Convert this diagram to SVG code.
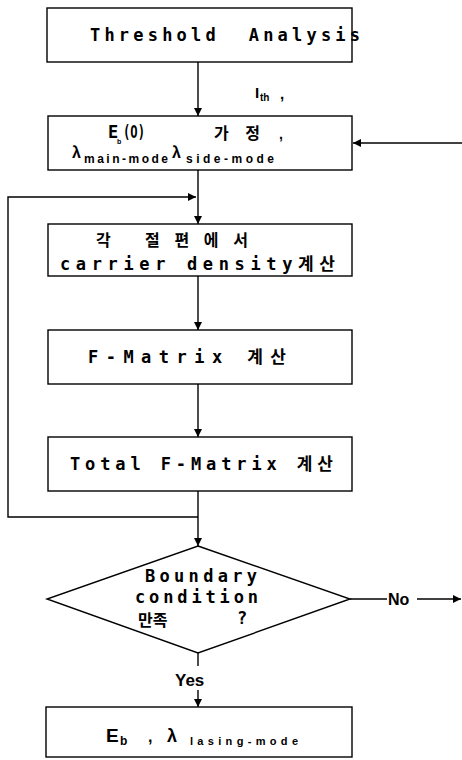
<svg xmlns="http://www.w3.org/2000/svg" width="462" height="760" viewBox="0 0 462 760">
<style>
.box{fill:#fff;stroke:#000;stroke-width:1.4}
.ln{fill:none;stroke:#000;stroke-width:1.4}
.m{font-family:"DejaVu Sans Mono","Noto Sans CJK KR",monospace;font-weight:bold;font-size:17px;fill:#000;white-space:pre}
.k{font-family:"Noto Sans CJK KR","Liberation Sans",sans-serif;font-weight:bold;font-size:16px;fill:#000}
.s{font-family:"Liberation Sans","Noto Sans CJK KR",sans-serif;font-weight:bold;fill:#000}
</style>
<defs>
<marker id="ah" viewBox="0 0 10 10" refX="10" refY="5" markerWidth="8" markerHeight="8" markerUnits="userSpaceOnUse" orient="auto">
<path d="M0,0 L10,5 L0,10 z" fill="#000"/>
</marker>
</defs>
<g id="connectors">
<line class="ln" x1="198" y1="62" x2="198" y2="116" marker-end="url(#ah)"/>
<text class="s" x="255" y="98" font-size="15">I</text>
<text class="s" x="260" y="101" font-size="10">th</text>
<text class="s" x="280" y="99" font-size="15">,</text>
<line class="ln" x1="462" y1="143" x2="353" y2="143" marker-end="url(#ah)"/>
<line class="ln" x1="198" y1="170" x2="198" y2="224" marker-end="url(#ah)"/>
<polyline class="ln" points="198,517 8,517 8,197 196,197" marker-end="url(#ah)"/>
<line class="ln" x1="198" y1="276" x2="198" y2="330" marker-end="url(#ah)"/>
<line class="ln" x1="198" y1="384" x2="198" y2="437" marker-end="url(#ah)"/>
<line class="ln" x1="198" y1="491" x2="198" y2="546" marker-end="url(#ah)"/>
<line class="ln" x1="350" y1="599" x2="387" y2="599"/>
<text class="s" x="388" y="605" font-size="16">No</text>
<line class="ln" x1="417" y1="599" x2="461" y2="599" marker-end="url(#ah)"/>
<line class="ln" x1="198" y1="653" x2="198" y2="666"/>
<text class="s" x="175" y="686" font-size="17">Yes</text>
<line class="ln" x1="198" y1="690" x2="198" y2="707" marker-end="url(#ah)"/>
</g>
<g id="n1">
<rect class="box" x="47" y="8" width="305" height="54"/>
<text class="m" x="90" y="41" textLength="270" lengthAdjust="spacing">Threshold  Analysis</text>
</g>
<g id="n2">
<rect class="box" x="48" y="116" width="304" height="54"/>
<text class="m" x="108" y="138" font-size="15">E</text>
<text class="s" x="117" y="144" font-size="7">b</text>
<text class="m" x="123" y="138" font-size="14" textLength="22" lengthAdjust="spacingAndGlyphs">(O)</text>
<text class="k" x="214" y="139" font-size="17" textLength="46" lengthAdjust="spacing">가정</text>
<text class="s" x="279" y="139" font-size="14">,</text>
<text class="s" x="72" y="158" font-size="16">λ</text>
<text class="s" x="84" y="163" font-size="12" textLength="84" lengthAdjust="spacing">main-mode</text>
<text class="s" x="172" y="158" font-size="16">λ</text>
<text class="s" x="186" y="163" font-size="12" textLength="88" lengthAdjust="spacing">side-mode</text>
</g>
<g id="n3">
<rect class="box" x="48" y="224" width="304" height="52"/>
<text class="k" x="96" y="246" font-size="18">각</text>
<text class="k" x="145" y="246" font-size="18" textLength="103" lengthAdjust="spacing">절편에서</text>
<text class="m" x="60" y="270" textLength="275" lengthAdjust="spacing">carrier density계산</text>
</g>
<g id="n4">
<rect class="box" x="48" y="330" width="304" height="54"/>
<text class="m" x="88" y="363" textLength="198" lengthAdjust="spacing">F-Matrix 계산</text>
</g>
<g id="n5">
<rect class="box" x="48" y="437" width="304" height="54"/>
<text class="m" x="70" y="470" textLength="263" lengthAdjust="spacing">Total F-Matrix 계산</text>
</g>
<g id="n6">
<polygon class="box" points="198,546 350,599 198,653 47,599"/>
<text class="m" x="145" y="582" font-size="16" textLength="112" lengthAdjust="spacing">Boundary</text>
<text class="m" x="135" y="603" font-size="16" textLength="123" lengthAdjust="spacing">condition</text>
<text class="k" x="138" y="626" font-size="16">만족</text>
<text class="m" x="237" y="624">?</text>
</g>
<g id="n7">
<rect class="box" x="46" y="707" width="306" height="50"/>
<text class="s" x="106" y="742" font-size="19">E</text>
<text class="s" x="120" y="745" font-size="12">b</text>
<text class="s" x="148" y="742" font-size="16">,</text>
<text class="s" x="167" y="742" font-size="18">λ</text>
<text class="s" x="190" y="745" font-size="11" textLength="108" lengthAdjust="spacing">lasing-mode</text>
</g>
</svg>
